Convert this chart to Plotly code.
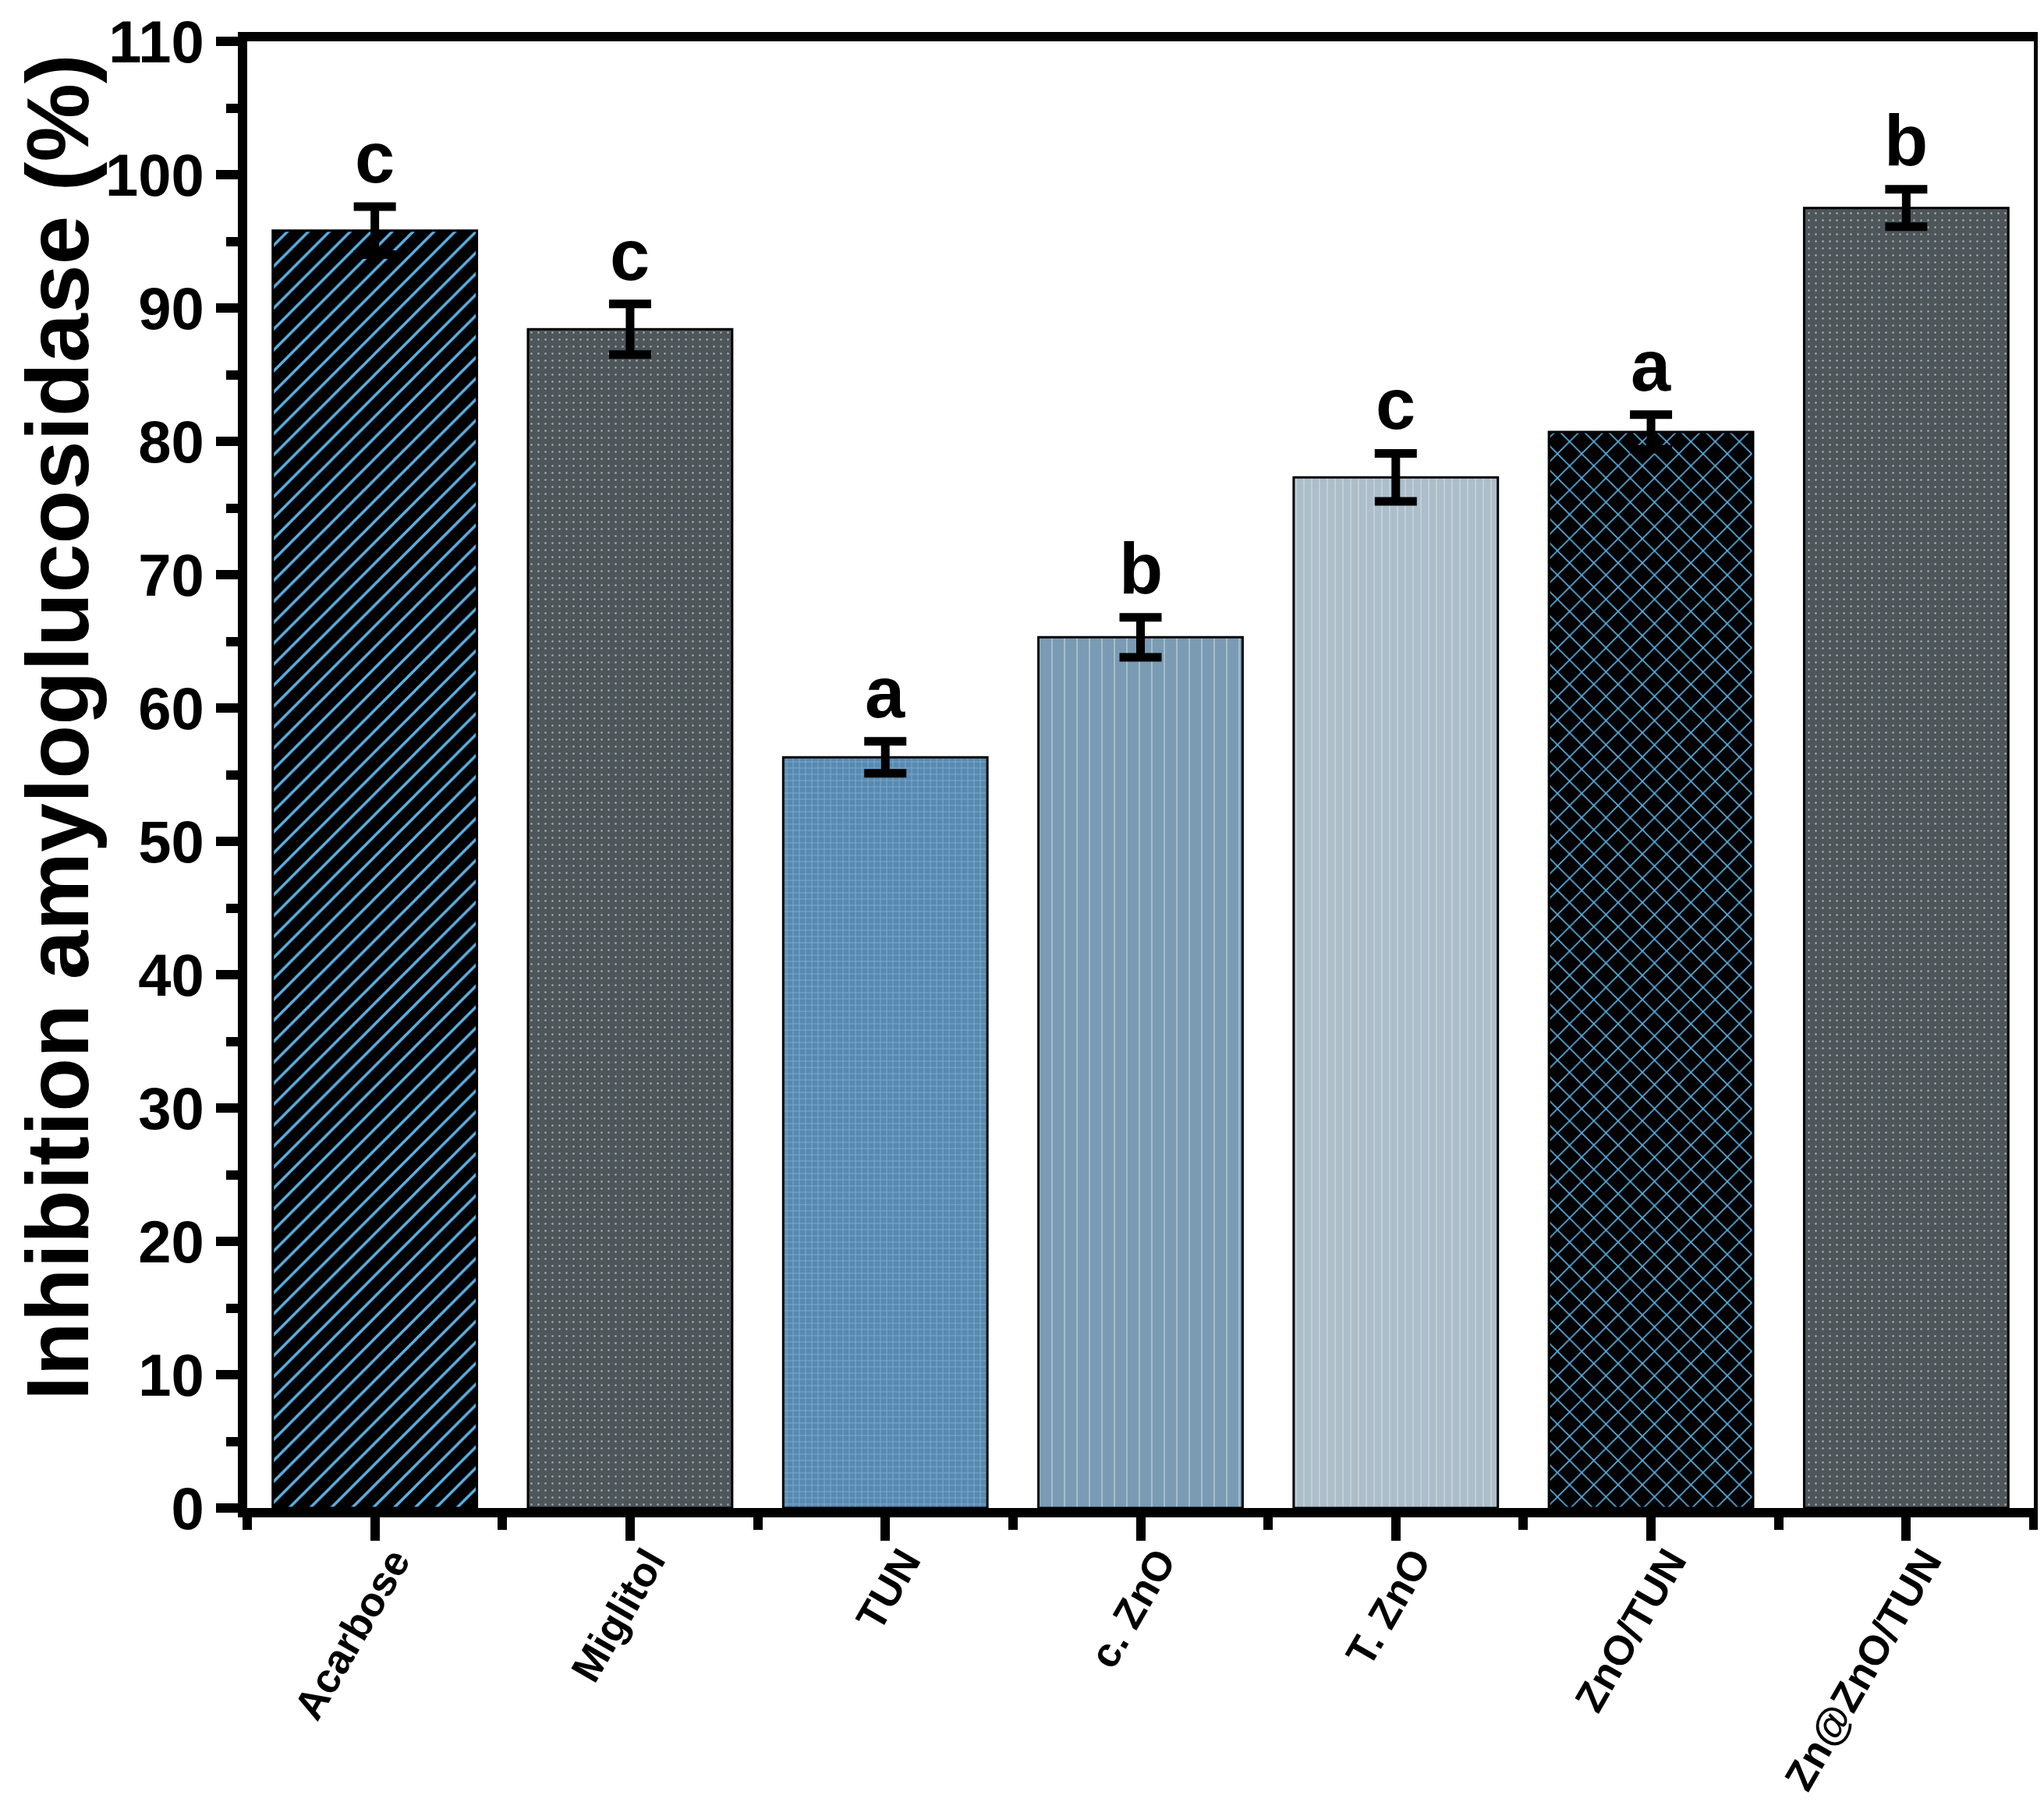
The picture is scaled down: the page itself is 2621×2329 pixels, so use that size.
import plotly.graph_objects as go

# ---- data ----
categories = ["Acarbose", "Miglitol", "TUN", "c. ZnO", "T. ZnO", "ZnO/TUN", "Zn@ZnO/TUN"]
values = [95.8, 88.4, 56.3, 65.3, 77.3, 80.7, 97.5]
errors = [1.8, 1.9, 1.2, 1.5, 1.8, 1.3, 1.4]
letters = ["c", "c", "a", "b", "c", "a", "b"]
y_title = "Inhibition amyloglucosidase (%)"

# ---- styles ----
bar_color = ["#000000", "#4f5659", "#5889b0", "#7a9bb3", "#adbecb", "#000000", "#4f5659"]
pat_shape = ["/", ".", "+", "|", "|", "x", "."]
pat_fg = ["#5ab2e6", "#9fb3c0", "#7eaed3", "#b0c6d4", "#c9d5dd", "#5ab2e6", "#9fb3c0"]
pat_size = [19, 9, 8, 16, 10, 22, 9]
pat_sol = [0.18, 0.06, 0.2, 0.1, 0.15, 0.14, 0.06]

FONT = "Liberation Sans, Arial, sans-serif"
xpos = list(range(len(categories)))

fig = go.Figure()
for i in xpos:
    fig.add_trace(go.Bar(
        x=[xpos[i]], y=[values[i]], width=0.8, name=categories[i],
        marker=dict(
            color=bar_color[i],
            line=dict(color="black", width=3),
            pattern=dict(shape=pat_shape[i], fgcolor=pat_fg[i], fgopacity=1,
                         size=pat_size[i], solidity=pat_sol[i], fillmode="overlay"),
        ),
        error_y=dict(type="data", array=[errors[i]], visible=True,
                     color="black", thickness=11, width=27),
        showlegend=False,
    ))

for xi, v, e, t in zip(xpos, values, errors, letters):
    fig.add_annotation(x=xi, y=v + e, text=t, showarrow=False,
                       xanchor="center", yanchor="bottom", yshift=10,
                       font=dict(family=FONT, size=92, color="black", weight="bold"))

ML, MR, MT, MB = 309, 21, 45, 403
W, H = 2621, 2329
pw, ph = W - ML - MR, H - MT - MB

fig.add_annotation(xref="paper", yref="paper", x=-(ML - 1) / pw, y=(H - MB - 925) / ph,
                   text=y_title, textangle=-90, showarrow=False,
                   xanchor="left", yanchor="middle",
                   font=dict(family=FONT, size=113, color="black", weight="bold"))

fig.update_layout(
    width=W, height=H,
    margin=dict(l=ML, r=MR, t=MT, b=MB, autoexpand=False),
    paper_bgcolor="white", plot_bgcolor="white",
    barmode="overlay",
)
fig.update_xaxes(
    automargin=False,
    range=[-0.5, 6.5], tickmode="array", tickvals=xpos, ticktext=categories,
    tickangle=-60, ticks="outside", ticklen=30, tickwidth=12, tickcolor="black",
    ticklabelshift=24, ticklabelstandoff=-26, ticklabeloverflow="allow",
    minor=dict(tick0=0.5, dtick=1, ticks="outside", ticklen=16, tickwidth=12, tickcolor="black"),
    showline=True, linewidth=12, linecolor="black", mirror=True,
    showgrid=False, zeroline=False,
    tickfont=dict(family=FONT, size=53, color="black", weight="bold"),
)
fig.update_yaxes(
    automargin=False,
    range=[0, 110], tick0=0, dtick=10, ticklabeloverflow="allow",
    ticks="outside", ticklen=28, tickwidth=12, tickcolor="black",
    minor=dict(dtick=5, ticks="outside", ticklen=15, tickwidth=12, tickcolor="black"),
    showline=True, linewidth=12, linecolor="black", mirror=True,
    showgrid=False, zeroline=False,
    tickfont=dict(family=FONT, size=76, color="black", weight="bold"),
)

fig.write_html("out.html")
